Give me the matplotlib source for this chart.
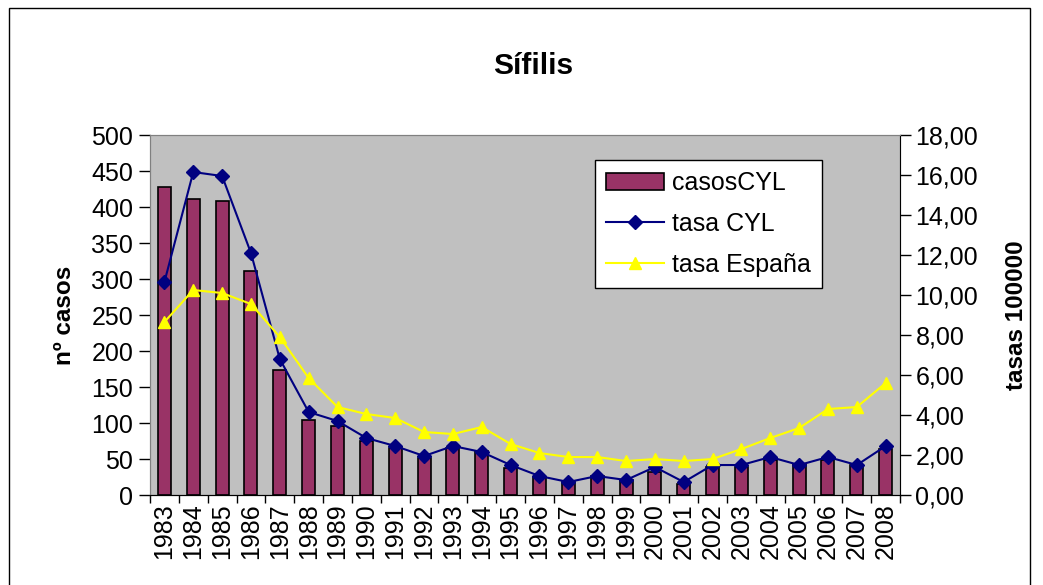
import numpy as np
import matplotlib.pyplot as plt
from matplotlib.ticker import FuncFormatter, FixedLocator

plt.rcParams['font.family'] = ['Liberation Sans', 'DejaVu Sans']

years = [str(y) for y in range(1983, 2009)]
casos_cyl = [428, 411, 408, 311, 174, 104, 96, 75, 65, 51, 66, 61, 38, 25, 18, 26,
             21, 32, 15, 39, 39, 49, 43, 49, 42, 64]
tasa_cyl = [10.65, 16.15, 15.95, 12.1, 6.8, 4.15, 3.7, 2.85, 2.45, 1.95, 2.45, 2.15,
            1.5, 0.95, 0.65, 0.95, 0.75, 1.4, 0.65, 1.5, 1.5, 1.9, 1.5, 1.9, 1.5, 2.45]
tasa_esp = [8.65, 10.25, 10.1, 9.55, 7.9, 5.85, 4.4, 4.05, 3.85, 3.15, 3.05, 3.4,
            2.55, 2.1, 1.9, 1.9, 1.7, 1.8, 1.7, 1.8, 2.3, 2.85, 3.35, 4.3, 4.4, 5.6]

x = np.arange(len(years))

fig = plt.figure(figsize=(10.43, 5.85), dpi=100)
# outer frame like the Excel chart area
fig.patches.append(plt.Rectangle((0.009, -0.01), 0.979, 0.997, transform=fig.transFigure,
                                 fill=False, edgecolor='black', linewidth=1.0))

ax = fig.add_axes([0.1438, 0.1538, 0.7192, 0.6154])
ax.set_facecolor('#C0C0C0')
bars = ax.bar(x, casos_cyl, width=0.45, color='#993366', edgecolor='black',
              linewidth=1.2, label='casosCYL', zorder=2)
ax.set_xlim(-0.5, len(years) - 0.5)
ax.set_ylim(0, 500)
ax.set_yticks(range(0, 501, 50))
ax.tick_params(axis='y', labelsize=18, direction='out', length=8, width=1, pad=4)
ax.set_xticks(x)
ax.set_xticklabels(years, rotation=90, fontsize=18)
ax.tick_params(axis='x', which='major', length=0, pad=6)
ax.xaxis.set_minor_locator(FixedLocator(np.arange(-0.5, len(years), 1)))
ax.tick_params(axis='x', which='minor', length=6, width=1, direction='out')
ax.set_ylabel('nº casos', fontsize=17.5, fontweight='bold', labelpad=11)
for s in ['top', 'right', 'left']:
    ax.spines[s].set_color('#808080')
ax.spines['bottom'].set_color('black')

ax2 = ax.twinx()
l1, = ax2.plot(x, tasa_cyl, color='#000080', marker='D', markersize=7,
               linewidth=1.5, label='tasa CYL', zorder=3)
l2, = ax2.plot(x, tasa_esp, color='#FFFF00', marker='^', markersize=9,
               linewidth=1.5, label='tasa España', zorder=3)
ax2.set_ylim(0, 18)
ax2.set_yticks(np.arange(0, 18.1, 2))
ax2.yaxis.set_major_formatter(FuncFormatter(lambda v, p: f'{v:.2f}'.replace('.', ',')))
ax2.tick_params(axis='y', labelsize=18, direction='out', length=8, width=1, pad=3)
ax2.set_ylabel('tasas 100000', fontsize=17.5, fontweight='bold', labelpad=19)
ax2.spines['right'].set_color('black')
ax2.spines['top'].set_color('#808080')
ax2.spines['left'].set_color('#808080')

leg = ax2.legend([bars, l1, l2], ['casosCYL', 'tasa CYL', 'tasa España'],
                 loc='upper left', bbox_to_anchor=(0.593, 0.931), fontsize=18,
                 frameon=True, fancybox=False, framealpha=1, edgecolor='black',
                 borderpad=0.45, borderaxespad=0, labelspacing=0.68,
                 handlelength=2.3, handletextpad=0.35)
leg.get_frame().set_linewidth(1.0)

fig.text(0.511, 0.888, 'Sífilis', ha='center', va='center', fontsize=21.5, fontweight='bold')

fig.savefig('out.png', dpi=100)
